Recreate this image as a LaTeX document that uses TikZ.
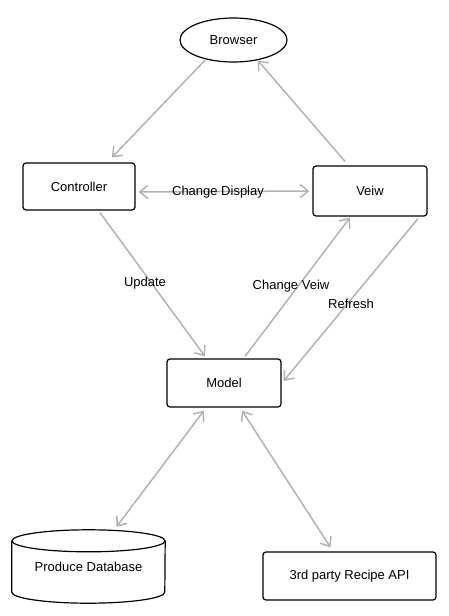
\documentclass[tikz,border=0pt]{standalone}
\usepackage{fontspec}
\setmainfont{Liberation Sans}
\usetikzlibrary{arrows.meta,shapes.geometric}
\begin{document}
\begin{tikzpicture}[x=1pt,y=-1pt,
  box/.style={draw=black, line width=1.2pt, rounded corners=3pt, font=\fontsize{13}{15}\selectfont},
  conn/.style={draw=black!30, line width=1.5pt, -{Straight Barb[length=8pt,width=13pt,line width=1.5pt]}},
  conn2/.style={draw=black!30, line width=1.5pt, {Straight Barb[length=8pt,width=13pt,line width=1.5pt]}-{Straight Barb[length=8pt,width=13pt,line width=1.5pt]}},
  lbl/.style={font=\fontsize{13}{15}\selectfont, inner sep=0pt}]
\path[use as bounding box] (0,0) rectangle (449,616);
\node[draw=black, line width=1.2pt, ellipse, minimum width=107pt, minimum height=44pt, inner sep=0pt, font=\fontsize{13}{15}\selectfont] (browser) at (233.5,40) {Browser};
\node[box, minimum width=112pt, minimum height=47pt] (ctrl) at (79,186.5) {Controller};
\node[box, minimum width=114pt, minimum height=50pt] (veiw) at (370,191) {Veiw};
\node[box, minimum width=114pt, minimum height=48pt] (model) at (224,383) {Model};
\node[box, minimum width=173pt, minimum height=48pt] (api) at (349.5,576) {3rd party Recipe API};
\node[minimum width=153pt, minimum height=73pt, inner sep=0pt, font=\fontsize{13}{15}\selectfont] (db) at (88.5,566.5) {Produce Database};
\draw[line width=1.2pt] ([yshift=-11pt]db.north) ellipse[x radius=76.5pt, y radius=11pt];
\draw[line width=1.2pt] ([yshift=-11pt]db.north west) -- ([yshift=11pt]db.south west)
  arc[start angle=180, end angle=360, x radius=76.5pt, y radius=11pt] -- ([yshift=-11pt]db.north east);
% connectors
\draw[conn] (browser.215) -- ([xshift=33pt,yshift=5pt]ctrl.north);
\draw[conn] ([xshift=-25pt,yshift=4pt]veiw.north) -- (browser.320);
\draw[conn2] ([xshift=3pt,yshift=-5.5pt]ctrl.east) -- ([xshift=-3pt]veiw.west);
\draw[conn] ([xshift=21pt,yshift=-2pt]ctrl.south) -- ([xshift=-19pt,yshift=2pt]model.north);
\draw[conn] ([xshift=21pt,yshift=2pt]model.north) -- ([xshift=-20pt,yshift=-1pt]veiw.south);
\draw[conn] ([xshift=48pt,yshift=-2pt]veiw.south) -- ([xshift=2pt,yshift=2pt]model.east);
\draw[conn2] ([xshift=-20pt,yshift=-3pt]model.south) -- ([xshift=28pt,yshift=3pt]db.north);
\draw[conn2] ([xshift=18pt,yshift=-3pt]model.south) -- ([xshift=-19pt,yshift=4pt]api.north);
% labels
\node[lbl] (l1) at (218,192) {Change Display};
\node[lbl] (l2) at (145,283) {Update};
\node[lbl] (l3) at (291,286) {Change Veiw};
\node[lbl] (l4) at (351,304) {Refresh};
\end{tikzpicture}
\end{document}
